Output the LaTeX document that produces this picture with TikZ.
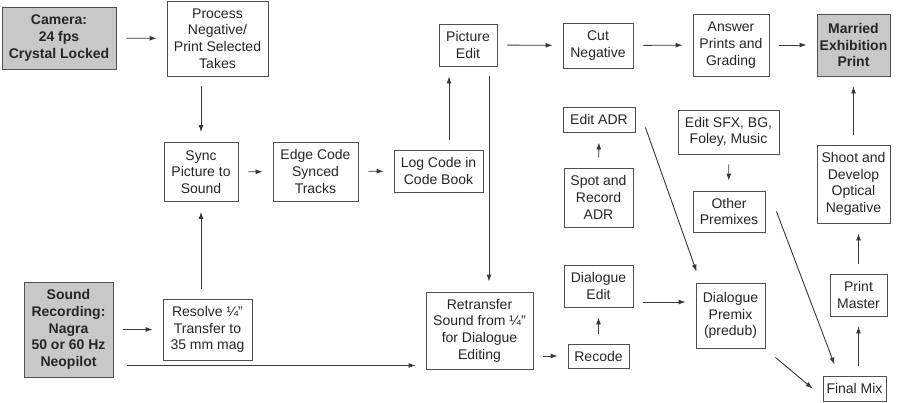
\documentclass[tikz,border=0pt]{standalone}
\usepackage{fontspec}
\setmainfont{Liberation Sans}
\usepackage{xcolor}
\usetikzlibrary{arrows.meta}
\definecolor{boxline}{HTML}{505050}
\definecolor{boxfill}{HTML}{C8C8C8}

\begin{document}
\begin{tikzpicture}[x=1pt, y=-1pt,
  stage/.style={draw=boxline, line width=0.9pt, fill=white, align=center, inner sep=0pt,
    text=black!85, font=\fontsize{14}{16.7}\selectfont},
  source/.style={stage, fill=boxfill, font=\fontsize{14}{16.7}\selectfont\bfseries},
  flow/.style={draw=boxline!70!black, line width=0.9pt, -{Latex[length=7pt,width=5pt]},
    shorten <=10pt, shorten >=10pt}]

\useasboundingbox (0,0) rectangle (900,402);

% Picture path (top rows)
\node[source, minimum width=114pt, minimum height=62pt] (camera) at (59,38) {Camera:\\24 fps\\Crystal Locked};
\node[stage, minimum width=101pt, minimum height=75pt] (process) at (217.5,38.5) {Process\\Negative/\\Print Selected\\Takes};
\node[stage, minimum width=74pt, minimum height=59pt] (sync) at (201,172) {Sync\\Picture to\\Sound};
\node[stage, minimum width=85pt, minimum height=59pt] (edge) at (315.5,171.5) {Edge Code\\Synced\\Tracks};
\node[stage, minimum width=89pt, minimum height=42pt] (log) at (438.5,171) {Log Code in\\Code Book};
\node[stage, minimum width=58pt, minimum height=42pt] (pedit) at (468,45) {Picture\\Edit};
\node[stage, minimum width=70pt, minimum height=45pt] (cut) at (598,45.5) {Cut\\Negative};
\node[stage, minimum width=76pt, minimum height=62pt] (answer) at (731,45) {Answer\\Prints and\\Grading};
\node[source, minimum width=73pt, minimum height=62pt] (married) at (853.5,45) {Married\\Exhibition\\Print};

% Sound path
\node[source, minimum width=89pt, minimum height=95pt] (sound) at (68.5,329.5) {Sound\\Recording:\\Nagra\\50 or 60 Hz\\Neopilot};
\node[stage, minimum width=89pt, minimum height=61pt] (resolve) at (207.5,329.5) {Resolve ¼”\\Transfer to\\35 mm mag};
\node[stage, minimum width=107pt, minimum height=77pt] (retr) at (479.5,330.5) {Retransfer\\Sound from ¼”\\for Dialogue\\Editing};
\node[stage, minimum width=61pt, minimum height=24pt] (recode) at (598.5,356) {Recode};
\node[stage, minimum width=69pt, minimum height=42pt] (dedit) at (598.5,286) {Dialogue\\Edit};
\node[stage, minimum width=69pt, minimum height=59pt] (spot) at (598.5,197.5) {Spot and\\Record\\ADR};
\node[stage, minimum width=72pt, minimum height=25pt] (eadr) at (599,119.5) {Edit ADR};
\node[stage, minimum width=101pt, minimum height=44pt] (esfx) at (728.5,132) {Edit SFX, BG,\\Foley, Music};
\node[stage, minimum width=72pt, minimum height=41pt] (other) at (729,211.5) {Other\\Premixes};
\node[stage, minimum width=69pt, minimum height=65pt] (dpre) at (730.5,315.5) {Dialogue\\Premix\\(predub)};
\node[stage, minimum width=63pt, minimum height=25pt] (fmix) at (854.5,388.5) {Final Mix};
\node[stage, minimum width=57pt, minimum height=42pt] (pmaster) at (858.5,295) {Print\\Master};
\node[stage, minimum width=73pt, minimum height=78pt] (shoot) at (853.5,184) {Shoot and\\Develop\\Optical\\Negative};

% Connectors
\draw[flow] (camera) -- (process);
\draw[flow] (process.south -| sync) -- (sync);
\draw[flow] (sync) -- (edge);
\draw[flow] (edge) -- (log);
\draw[flow] ([xshift=10.5pt]log.north) -- ([xshift=10.5pt]log.north |- pedit.south);
\draw[flow] ([xshift=21pt]pedit.south) -- ([xshift=21pt]pedit.south |- retr.north);
\draw[flow] (pedit) -- (cut);
\draw[flow] (cut) -- (answer);
\draw[flow] (answer) -- (married);
\draw[flow] (sound) -- (resolve);
\draw[flow] (resolve.north -| sync) -- (sync);
\draw[flow, shorten <=14pt] ([yshift=-36pt]sound.east) -- ([yshift=-36pt]sound.east -| retr.west);
\draw[flow] (retr.east |- recode) -- (recode);
\draw[flow] (recode) -- (dedit);
\draw[flow] (spot) -- (eadr);
\draw[flow] (esfx) -- (other);
\draw[flow] ([yshift=-16pt]dedit.east) -- ([yshift=-16pt]dedit.east -| dpre.west);
\draw[flow, shorten <=0pt, shorten >=0pt] ([shift={(10pt,-8pt)}]eadr.east) -- ([shift={(1pt,11pt)}]dpre.north west);
\draw[flow, shorten <=0pt, shorten >=0pt] ([xshift=11pt]other.east) -- ([shift={(-20pt,11pt)}]fmix.north);
\draw[flow, shorten <=0pt, shorten >=0pt] ([shift={(10pt,-9pt)}]dpre.south east) -- ([xshift=-10pt]fmix.west);
\draw[flow] (fmix.north -| pmaster) -- (pmaster);
\draw[flow] (pmaster.north) -- (pmaster.north |- shoot.south);
\draw[flow] (shoot) -- (married);

\end{tikzpicture}
\end{document}
